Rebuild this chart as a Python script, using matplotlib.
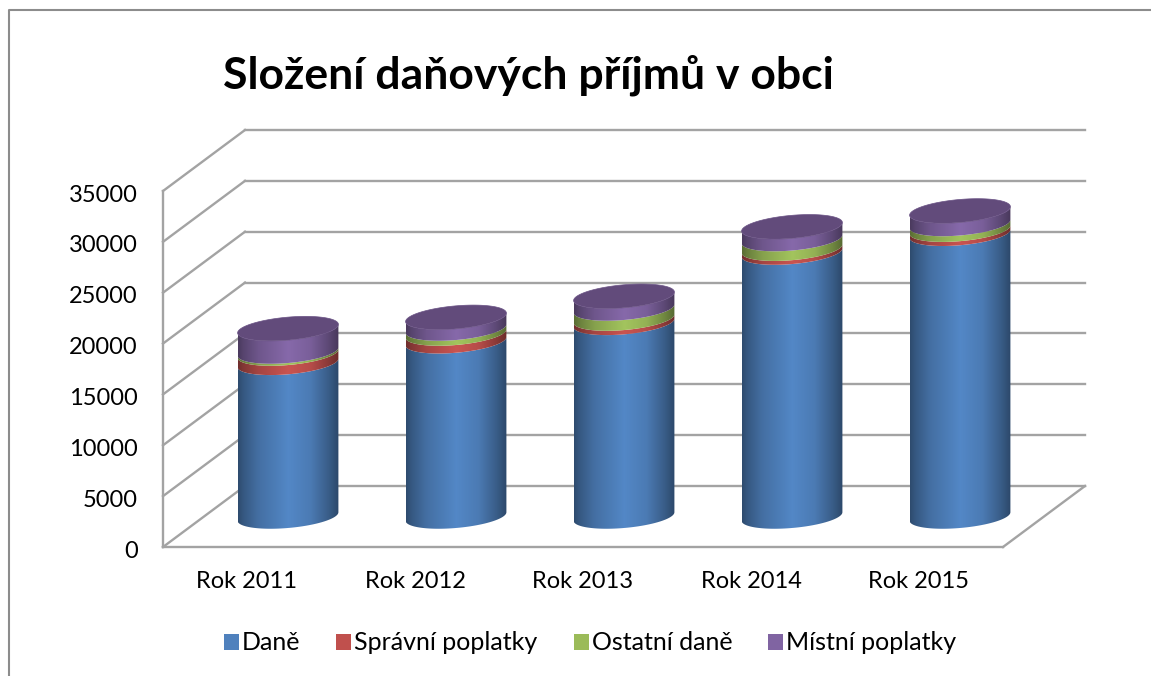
#!/usr/bin/python3

import numpy as np
import matplotlib
matplotlib.use('Agg')
import matplotlib.pyplot as plt
from matplotlib.lines import Line2D
from matplotlib.patches import Patch, PathPatch, Polygon
from matplotlib.path import Path
from matplotlib.transforms import Affine2D, IdentityTransform

plt.rcParams['font.family'] = ['Lato', 'Noto Sans', 'DejaVu Sans']

W, H = 1151, 676

# data
roky = ['Rok 2011', 'Rok 2012', 'Rok 2013', 'Rok 2014', 'Rok 2015']
dane = [15110, 17230, 19040, 25950, 27800]
spravni = [910, 760, 420, 380, 400]
ostatni = [200, 490, 990, 950, 560]
mistni = [2250, 1100, 1200, 1200, 1280]
nazvy = ['Daně', 'Správní poplatky', 'Ostatní daně', 'Místní poplatky']
barvy = ['#4F81BD', '#C0504D', '#9BBB59', '#8064A2']
y_ticks = [0, 5000, 10000, 15000, 20000, 25000, 30000, 35000]

grey = '#A3A3A3'

fig = plt.figure(figsize=(W / 100, H / 100), dpi=100)
ax = fig.add_axes([163 / W, 1 - 547 / H, 840 / W, 356 / H])
ax.patch.set_visible(False)
ax.set_xlim(0, 5)
ax.set_ylim(0, 35000)
ax.set_autoscale_on(False)

def depth(d):
    # oblique shift toward the back wall, in pixels
    return ax.transData + Affine2D().translate(82 * d, 61 * d)

def depth_line(x, v):
    a = ax.transData.transform((x, v))
    b = back.transform((x, v))
    ax.add_line(Line2D([a[0], b[0]], [a[1], b[1]], color=grey, lw=1.7, transform=IdentityTransform(),
                       clip_on=False, zorder=1))

# walls and floor
back = depth(1)
for v in y_ticks:
    ax.plot([0, 5], [v, v], color=grey, lw=1.7, transform=back, clip_on=False, zorder=1)
    depth_line(0, v)
depth_line(5, 0)
ax.plot([0, 5], [0, 0], color=grey, lw=1.7, clip_on=False, zorder=1)
ax.plot([0, 0], [0, 35000], color=grey, lw=1.7, clip_on=False, zorder=1)

# cylinders
stred = depth(0.5)
r = 0.3
tilt = 418
semi = 1130
t_front = np.linspace(np.pi, 2 * np.pi, 60)
t_full = np.linspace(0, 2 * np.pi, 120)
shade_x = [0, 0.05, 0.2, 0.5, 0.72, 0.9, 1]
shade_v = [0.58, 0.68, 0.86, 1.05, 0.95, 0.72, 0.56]

def rim(x0, v, t):
    return np.column_stack([x0 + r * np.cos(t), v + tilt * np.cos(t) + semi * np.sin(t)])

def gradient(color):
    rgb = np.array(matplotlib.colors.to_rgb(color))
    s = np.interp(np.linspace(0, 1, 200), shade_x, shade_v)
    return np.clip(s[None, :, None] * rgb[None, None, :], 0, 1)

serie = [dane, spravni, ostatni, mistni]
for i in range(len(roky)):
    x0 = i + 0.5
    dole = 0
    for s, c in zip(serie, barvy):
        nahore = dole + s[i]
        spodek = rim(x0, dole, t_front)
        vrsek = rim(x0, nahore, t_front)[::-1]
        p = np.vstack([spodek, vrsek, spodek[:1]])
        patch = PathPatch(Path(p), facecolor='none', edgecolor='none', transform=stred, clip_on=False)
        ax.add_patch(patch)
        im = ax.imshow(gradient(c), extent=(x0 - r, x0 + r, dole - 1500, nahore + 1500), aspect='auto',
                       interpolation='bilinear', transform=stred, zorder=3)
        im.set_clip_path(patch)
        im.set_clip_box(fig.bbox)
        dole = nahore
    cap = rim(x0, dole, t_full)
    ax.add_patch(Polygon(cap, closed=True, facecolor='#624B7B', edgecolor='#6A5285', lw=0.5,
                         transform=stred, clip_on=False, zorder=4))

ax.set_xlim(0, 5)
ax.set_ylim(0, 35000)
ax.set_aspect('auto')

for sp in ax.spines.values():
    sp.set_visible(False)
ax.set_xticks([i + 0.5 for i in range(len(roky))], roky)
ax.set_yticks(y_ticks, [str(v) for v in y_ticks])
ax.tick_params(axis='both', length=0, labelcolor='black')
ax.tick_params(axis='y', pad=18, labelsize=17)
ax.tick_params(axis='x', pad=17, labelsize=17)
# y labels sit a little lower in the original
for lab in ax.get_yticklabels():
    lab.set_transform(lab.get_transform() + Affine2D().translate(0, -2))

fig.text(528 / W, 1 - 75 / H, 'Složení daňových příjmů v obci', fontsize=32, fontweight='bold',
         ha='center', va='center', color='black')

handles = [Patch(facecolor=c, edgecolor='none') for c in barvy]
fig.legend(handles, nazvy, loc='center', bbox_to_anchor=(590 / W, 1 - 643 / H), ncol=4, frameon=False,
           fontsize=18, handlelength=0.6, handleheight=0.6, handletextpad=0.12, columnspacing=1.44)

# outer chart frame, cut off by the picture
fig.add_artist(Line2D([9 / W, 9 / W, 1], [0, 1 - 10 / H, 1 - 10 / H], color='#8C8C8C', lw=1.5))

fig.savefig('out.png', dpi=100)
